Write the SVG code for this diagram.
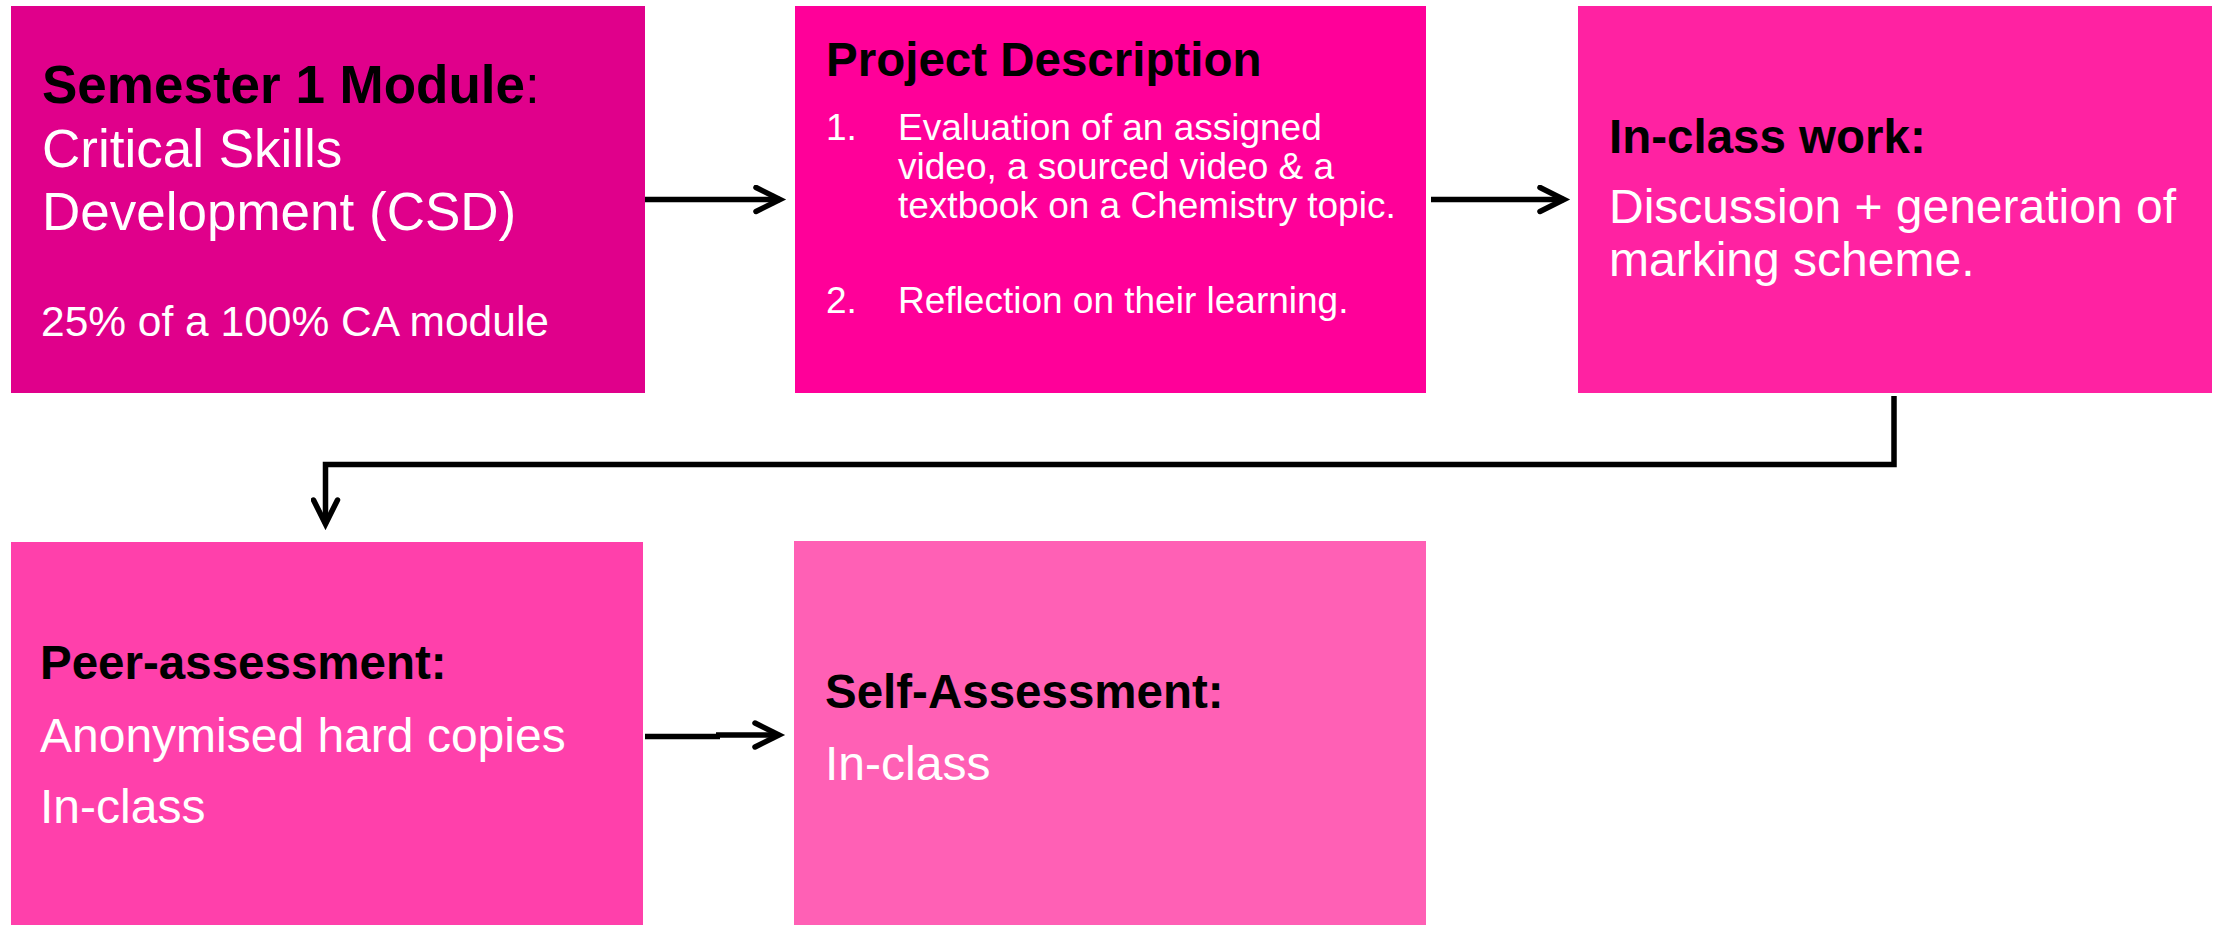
<svg xmlns="http://www.w3.org/2000/svg" width="2219" height="925" viewBox="0 0 2219 925">
<style>
text{font-family:"Liberation Sans",Arial,sans-serif}
.h{font-weight:bold;fill:#000}
.w{fill:#fff}
.c{fill:none;stroke:#000;stroke-width:5.5}
</style>
<defs>
<marker id="ah" viewBox="0 0 40 30" refX="30" refY="15" markerWidth="40" markerHeight="30" markerUnits="userSpaceOnUse" orient="auto">
<path d="M6,3 L30,15 L6,27" fill="none" stroke="#000" stroke-width="5.5" stroke-linecap="round" stroke-linejoin="miter"/>
</marker>
</defs>
<rect width="2219" height="925" fill="#fff"/>
<g id="node1">
<rect x="11" y="6" width="634" height="387" fill="#E0008B"/>
<text x="42" y="103" font-size="53"><tspan class="h">Semester 1 Module</tspan><tspan fill="#000">:</tspan></text>
<text class="w" x="42" y="167" font-size="53">Critical Skills</text>
<text class="w" x="42" y="230" font-size="53">Development (CSD)</text>
<text class="w" x="41" y="336" font-size="42.5">25% of a 100% CA module</text>
</g>
<g id="node2">
<rect x="795" y="6" width="631" height="387" fill="#FF0099"/>
<text class="h" x="826" y="76" font-size="47.5">Project Description</text>
<text class="w" x="826" y="140" font-size="37">1.</text>
<text class="w" x="898" y="140" font-size="37">Evaluation of an assigned</text>
<text class="w" x="898" y="179" font-size="37">video, a sourced video &amp; a</text>
<text class="w" x="898" y="218" font-size="37">textbook on a Chemistry topic.</text>
<text class="w" x="826" y="313" font-size="37">2.</text>
<text class="w" x="898" y="313" font-size="37">Reflection on their learning.</text>
</g>
<g id="node3">
<rect x="1578" y="6" width="634" height="387" fill="#FF22A2"/>
<text class="h" x="1609" y="153" font-size="47.5">In-class work:</text>
<text class="w" x="1609" y="223" font-size="48">Discussion + generation of</text>
<text class="w" x="1609" y="276" font-size="48">marking scheme.</text>
</g>
<g id="node4">
<rect x="11" y="542" width="632" height="383" fill="#FF40AB"/>
<text class="h" x="40" y="679" font-size="47.5">Peer-assessment:</text>
<text class="w" x="40" y="752" font-size="48">Anonymised hard copies</text>
<text class="w" x="40" y="823" font-size="48">In-class</text>
</g>
<g id="node5">
<rect x="794" y="541" width="632" height="384" fill="#FF60B5"/>
<text class="h" x="825" y="708" font-size="47.5">Self-Assessment:</text>
<text class="w" x="825" y="780" font-size="48">In-class</text>
</g>
<g id="connectors">
<line class="c" x1="645" y1="199.5" x2="780" y2="199.5" marker-end="url(#ah)"/>
<line class="c" x1="1431" y1="199.5" x2="1564" y2="199.5" marker-end="url(#ah)"/>
<polyline class="c" points="1894,396 1894,464.5 325.5,464.5 325.5,524" marker-end="url(#ah)"/>
<line class="c" x1="645" y1="736.5" x2="720" y2="736.5"/>
<line class="c" x1="716" y1="735" x2="779" y2="735" marker-end="url(#ah)"/>
</g>
</svg>
